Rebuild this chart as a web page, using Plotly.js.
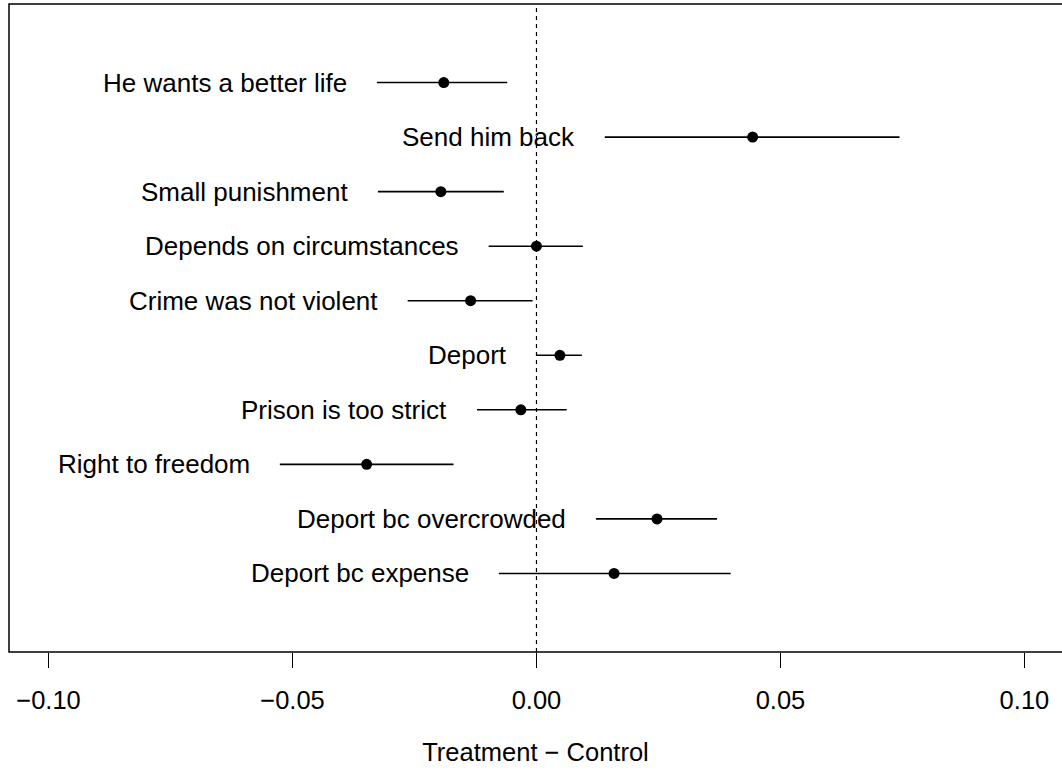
<!DOCTYPE html>
<html>
<head>
<meta charset="utf-8">
<script src="https://cdn.plot.ly/plotly-3.0.1.min.js"></script>
<style>html,body{margin:0;padding:0;background:#fff;}#chart{width:1062px;height:780px;}</style>
</head>
<body>
<div id="chart"></div>
<script>
// Data (top to bottom)
const labels = ["He wants a better life","Send him back","Small punishment","Depends on circumstances","Crime was not violent","Deport","Prison is too strict","Right to freedom","Deport bc overcrowded","Deport bc expense"];
const estimates = [-0.0190, 0.0443, -0.0196, 0.0000, -0.0135, 0.0048, -0.0032, -0.0348, 0.0247, 0.0159];
const lower = [-0.0327, 0.0140, -0.0325, -0.0098, -0.0264, 0.0001, -0.0122, -0.0526, 0.0122, -0.0077];
const upper = [-0.0060, 0.0744, -0.0067, 0.0095, -0.0008, 0.0093, 0.0062, -0.0170, 0.0370, 0.0398];
const tickVals = [-0.10, -0.05, 0.00, 0.05, 0.10];
const tickText = ["\u22120.10", "\u22120.05", "0.00", "0.05", "0.10"];
const xTitle = "Treatment \u2212 Control";

const n = labels.length;
const ypos = labels.map((_, i) => n - i);
const font = "Liberation Sans, Arial, Helvetica, sans-serif";

const trace = {
  x: estimates,
  y: ypos,
  type: "scatter",
  mode: "markers",
  marker: {color: "#000", size: 11},
  error_x: {
    type: "data",
    symmetric: false,
    array: estimates.map((e, i) => upper[i] - e),
    arrayminus: estimates.map((e, i) => e - lower[i]),
    color: "#000",
    thickness: 1.6,
    width: 0
  },
  hoverinfo: "skip",
  showlegend: false
};

const annotations = labels.map((t, i) => ({
  x: lower[i], y: ypos[i], xref: "x", yref: "y",
  text: t, showarrow: false, xanchor: "right", yanchor: "middle",
  xshift: -28, font: {family: font, size: 26, color: "#000"}
}));

const layout = {
  width: 1062, height: 780,
  margin: {l: 9, r: 0, t: 4, b: 128},
  paper_bgcolor: "#fff", plot_bgcolor: "#fff",
  font: {family: font, color: "#000", size: 25.5},
  xaxis: {
    range: [-0.1081, 0.1077],
    tickvals: tickVals, ticktext: tickText,
    ticks: "outside", ticklen: 15, tickwidth: 1.5, tickcolor: "#000",
    ticklabelstandoff: 10,
    showgrid: false, zeroline: false, showline: false,
    tickfont: {family: font, size: 25.5, color: "#000"},
    title: {text: xTitle, font: {family: font, size: 25.5, color: "#000"}, standoff: 30}
  },
  yaxis: {
    range: [-0.44, 11.44],
    showticklabels: false, ticks: "", showgrid: false, zeroline: false, showline: false
  },
  shapes: [
    {type: "line", xref: "x", yref: "paper", x0: 0, x1: 0, y0: 0, y1: 1,
     line: {color: "#000", width: 1.2, dash: "4px,4px"}},
    {type: "rect", xref: "paper", yref: "paper", x0: 0, x1: 1.05, y0: 0, y1: 1,
     line: {color: "#000", width: 1.5}}
  ],
  annotations: annotations
};

Plotly.newPlot("chart", [trace], layout, {staticPlot: true, displayModeBar: false});
</script>
</body>
</html>
